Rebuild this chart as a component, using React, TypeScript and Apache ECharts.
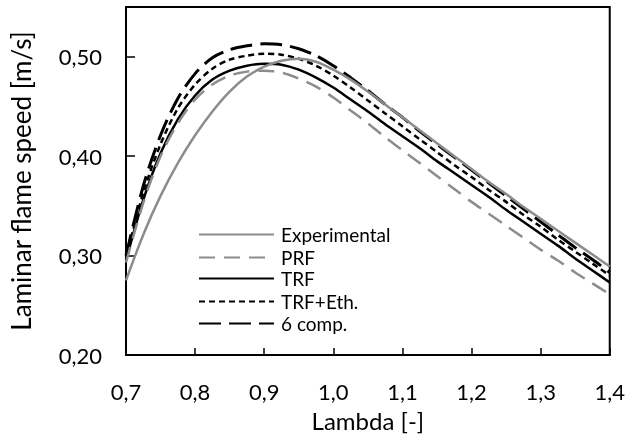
import React, { useEffect, useRef } from "react";
import * as echarts from "echarts";

const lambdas = [
  0.7, 0.725, 0.75, 0.775, 0.8, 0.825, 0.85, 0.875, 0.9, 0.925, 0.95, 0.975, 1.0, 1.025, 1.05,
  1.075, 1.1, 1.125, 1.15, 1.175, 1.2, 1.225, 1.25, 1.275, 1.3, 1.325, 1.35, 1.375, 1.4,
];

const experimental = [
  0.275, 0.321, 0.360, 0.393, 0.421, 0.445, 0.465, 0.480, 0.490, 0.496, 0.498, 0.495, 0.487, 0.477, 0.465,
  0.452, 0.439, 0.426, 0.413, 0.400, 0.387, 0.374, 0.362, 0.349, 0.337, 0.325, 0.313, 0.301, 0.289,
];
const prf = [
  0.293, 0.353, 0.400, 0.433, 0.457, 0.472, 0.481, 0.485, 0.486, 0.484, 0.478, 0.470, 0.459, 0.446, 0.433,
  0.419, 0.406, 0.393, 0.380, 0.367, 0.354, 0.342, 0.330, 0.318, 0.306, 0.295, 0.283, 0.272, 0.261,
];
const trf = [
  0.295, 0.356, 0.403, 0.437, 0.461, 0.477, 0.486, 0.491, 0.493, 0.492, 0.487, 0.479, 0.469, 0.457, 0.445,
  0.432, 0.420, 0.408, 0.395, 0.383, 0.371, 0.359, 0.346, 0.334, 0.322, 0.310, 0.297, 0.285, 0.273,
];
const trfEth = [
  0.298, 0.363, 0.412, 0.448, 0.472, 0.488, 0.497, 0.501, 0.503, 0.502, 0.498, 0.491, 0.481, 0.469, 0.456,
  0.443, 0.430, 0.417, 0.404, 0.391, 0.379, 0.366, 0.354, 0.341, 0.329, 0.316, 0.304, 0.292, 0.280,
];
const sixComp = [
  0.300, 0.370, 0.421, 0.458, 0.483, 0.499, 0.507, 0.511, 0.513, 0.512, 0.508, 0.501, 0.491, 0.479, 0.466,
  0.452, 0.439, 0.425, 0.412, 0.399, 0.386, 0.373, 0.360, 0.347, 0.334, 0.321, 0.308, 0.296, 0.283,
];

const seriesNames = ["Experimental", "PRF", "TRF", "TRF+Eth.", "6 comp."];
const seriesValues = [experimental, prf, trf, trfEth, sixComp];

const yTicks = [0.2, 0.3, 0.4, 0.5];

const FONT = "Lato";

export default function App() {
  const ref = useRef<HTMLDivElement>(null);
  useEffect(() => {
    if (!ref.current) return;
    const chart = echarts.init(ref.current, undefined, { renderer: "svg" });
    const styles = [
      { color: "#8c8c8c", width: 2.5, type: "solid" as any },
      { color: "#8c8c8c", width: 2.5, type: [16, 9] as any },
      { color: "#000000", width: 2.5, type: "solid" as any },
      { color: "#000000", width: 2.5, type: [6, 4] as any },
      { color: "#000000", width: 3, type: [22, 8] as any },
    ];
    const legendTops = [220, 243, 264, 287, 309];
    chart.setOption({
      animation: false,
      textStyle: { fontFamily: FONT },
      grid: { left: 123, right: 18, top: 7, bottom: 81, show: true, borderColor: "#000", borderWidth: 2 },
      legend: seriesNames.map((n, i) => ({
        data: [n],
        left: 193,
        top: legendTops[i],
        itemWidth: 75,
        itemHeight: 16,
        itemGap: 0,
        itemStyle: { opacity: 0 },
        textStyle: { fontFamily: FONT, fontSize: 19, color: "#000", padding: [0, 0, 0, 2] },
        selectedMode: false,
      })),
      xAxis: {
        type: "value",
        min: 0.7,
        max: 1.4,
        interval: 0.1,
        name: "Lambda [-]",
        nameLocation: "middle",
        nameGap: 53,
        nameTextStyle: { fontFamily: FONT, fontSize: 24, color: "#000" },
        axisLine: { show: true, lineStyle: { color: "#000", width: 2 } },
        axisTick: { show: true, inside: true, length: 7, lineStyle: { color: "#000", width: 1.5 } },
        axisLabel: {
          fontFamily: FONT,
          fontSize: 22,
          color: "#000",
          margin: 25,
          formatter: (v: number) => v.toFixed(1).replace(".", ","),
        },
        splitLine: { show: false },
      },
      yAxis: {
        type: "value",
        min: 0.2,
        max: 0.55,
        interval: 0.1,
        name: "Laminar flame speed [m/s]",
        nameLocation: "middle",
        nameGap: 92,
        nameTextStyle: { fontFamily: FONT, fontSize: 26, color: "#000" },
        axisLine: { show: true, lineStyle: { color: "#000", width: 2 } },
        axisTick: { show: true, inside: true, length: 9, lineStyle: { color: "#000", width: 1.5 } },
        axisLabel: {
          fontFamily: FONT,
          fontSize: 22,
          color: "#000",
          margin: 24,
          showMaxLabel: false,
          formatter: (v: number) => (yTicks.some((t) => Math.abs(t - v) < 1e-6) ? v.toFixed(2).replace(".", ",") : ""),
        },
        splitLine: { show: false },
      },
      series: seriesNames.map((n, i) => ({
        name: n,
        type: "line",
        smooth: 0.3,
        symbol: "none",
        z: 10 - i,
        data: lambdas.map((x, j) => [x, seriesValues[i][j]]),
        lineStyle: styles[i],
        itemStyle: { color: styles[i].color },
      })),
    });
    return () => chart.dispose();
  }, []);
  return <div ref={ref} style={{ position: "fixed", left: 0, top: 0, width: 628, height: 437 }} />;
}
